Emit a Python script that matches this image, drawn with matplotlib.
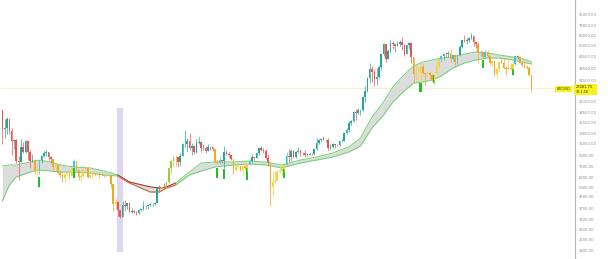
import numpy as np
import matplotlib
matplotlib.use("Agg")
import matplotlib.pyplot as plt
from matplotlib.patches import Rectangle
from matplotlib.ticker import FixedLocator, NullLocator

# weekly BTCUSD candles, week of 2017-12-18 .. week of 2022-05-09
first_open = 19100
closes = [
    14000, 14150,
    # 2018
    16400, 13600, 11500, 11600, 8200, 8100, 10400, 9600, 11500, 9500, 8200, 8400, 6900,
    7000, 8350, 8900, 9400, 9600, 8700, 8500, 7400, 7700, 6750, 6450, 6150, 6600, 6750,
    6350, 7400, 8200, 7000, 6300, 6400, 7000, 7300, 6250, 6500, 6700, 6600, 6600, 6500,
    6450, 6350, 6400, 6400, 5600, 4000, 4150, 3600, 3250, 3950, 3900,
    # 2019
    4050, 3500, 3550, 3500, 3450, 3650, 3700, 3850, 3850, 3950, 4000, 4000, 4100, 5200,
    5150, 5300, 5200, 5800, 7250, 8200, 8750, 8700, 8000, 8950, 10800, 10800, 11450,
    10200, 10500, 9500, 11000, 11300, 10200, 10100, 9750, 10400, 10300, 10000, 8050,
    7900, 8300, 8200, 9550, 9200, 9000, 8500, 7050, 7400, 7500, 7100, 7500, 7300, 7750,
    # 2020
    8200, 8700, 8600, 9350, 10150, 9900, 9650, 8550, 8050, 5350, 5800, 5900, 6780, 6900,
    7150, 7700, 8900, 8750, 9650, 8700, 9450, 9750, 9350, 9300, 9100, 9100, 9250, 9200,
    9950, 11050, 11700, 11850, 11650, 11700, 10250, 10300, 10900, 10750, 10650, 11350,
    11500, 13100, 13750, 15500, 16000, 18400, 18200, 19150, 19250, 23850, 26450, 32800,
    # 2021
    38200, 36000, 32300, 33100, 39300, 48600, 57400, 45200, 51200, 59000, 57600, 55800,
    57900, 59900, 56200, 49100, 56600, 58200, 46400, 34700, 35600, 35800, 39100, 35500,
    34700, 35300, 34200, 31800, 35400, 39800, 44600, 47000, 49000, 48900, 49900, 45000,
    48300, 42700, 48200, 54900, 61500, 60900, 61300, 63300, 65500, 59700, 57200, 49400,
    50100, 46700, 50800, 47300,
    # 2022
    41800, 43100, 35100, 38200, 42400, 42200, 38400, 37700, 38400, 37800, 41300, 46800,
    46400, 42200, 40400, 39400, 38500, 34300, 27481.70,
]
highs = [
    19200, 16500,
    17200, 16500, 14100, 11900, 11800, 8900, 11800, 11300, 11700, 11700, 9900, 9200, 8500,
    7500, 8400, 9000, 9750, 9900, 9600, 8900, 8500, 7800, 7800, 6900, 6850, 6650, 6800,
    6800, 7600, 8500, 8250, 7150, 6600, 6850, 7400, 7400, 6600, 6800, 6750, 6650, 6800,
    6750, 6500, 6500, 6550, 6450, 5600, 4400, 4200, 3600, 4200, 4250,
    4100, 4100, 3750, 3650, 3550, 3700, 3700, 4200, 3950, 3950, 4050, 4100, 4150, 5300,
    5450, 5400, 5650, 5800, 7300, 8300, 8900, 9100, 8700, 9300, 11000, 13850, 12000,
    13150, 11100, 10650, 11800, 12300, 11500, 10950, 10600, 10900, 10500, 10350, 10050,
    8500, 8850, 8400, 10500, 9900, 9500, 9100, 8500, 7850, 7750, 7550, 7500, 7650, 7900,
    8450, 9200, 8800, 9600, 10150, 10500, 10200, 9950, 9200, 8150, 6950, 6900, 7200, 7470,
    7300, 7750, 9450, 10050, 9950, 9900, 9700, 10400, 10000, 9600, 9800, 9350, 9450, 9350,
    10000, 12050, 11900, 12100, 12450, 11800, 12100, 10800, 11100, 10950, 10950, 11450,
    11750, 13350, 14100, 15950, 16300, 18800, 19450, 19900, 19450, 24200, 28400, 33300,
    42000, 40100, 37850, 38500, 40900, 49700, 58300, 57500, 52600, 61800, 60600, 58400,
    60200, 61300, 64800, 57500, 58000, 59500, 59500, 46500, 40800, 39500, 41300, 41300,
    36000, 36600, 35900, 34700, 35500, 42600, 44800, 48100, 49500, 50500, 51000, 52900,
    48800, 48400, 48500, 56600, 62000, 67000, 63700, 64300, 69000, 66300, 59800, 59100,
    51900, 50600, 52000, 52000,
    47600, 44400, 43500, 38900, 42600, 45800, 44700, 39700, 45400, 42000, 42400, 46900,
    48200, 47000, 42400, 42900, 40800, 40000, 34500,
]
lows = [
    10900, 12000,
    12800, 12800, 9100, 10000, 7900, 6000, 8000, 9300, 9400, 8400, 7300, 8100, 6600,
    6500, 6600, 7900, 8750, 8900, 8300, 7900, 7100, 7050, 6650, 6300, 5800, 5800, 6350,
    6100, 6350, 7300, 6900, 6000, 5900, 6300, 6900, 6200, 6150, 6200, 6400, 6450, 6150,
    6400, 6300, 6250, 6300, 5200, 3550, 3700, 3300, 3150, 3250, 3550,
    3700, 3500, 3450, 3450, 3350, 3400, 3550, 3650, 3700, 3700, 3850, 3900, 3950, 4100,
    4950, 5050, 5050, 5200, 5700, 6600, 7550, 7500, 7450, 7600, 8950, 10400, 9600,
    9900, 9100, 9150, 9400, 10800, 9500, 9800, 9350, 9750, 9900, 9650, 7900,
    7750, 7800, 7900, 7300, 9000, 8700, 8400, 6550, 6850, 7150, 6950, 6450, 7050, 6900,
    7700, 8100, 8300, 8550, 9100, 9650, 9300, 8500, 7600, 3850, 4500, 5700, 5850, 6750,
    6500, 6800, 7650, 8100, 8200, 8650, 8650, 9300, 8950, 9000, 8800, 8900, 9050, 9050,
    9100, 9900, 10950, 11200, 11600, 11200, 9900, 9850, 10200, 10150, 10450, 10550,
    11200, 11400, 12900, 13200, 14850, 15800, 16200, 18000, 17600, 19000, 21800, 26000,
    30000, 30400, 28800, 29200, 32300, 37400, 47000, 43000, 45000, 49300, 53300, 50400,
    55400, 55500, 52000, 47000, 48800, 53000, 42200, 30000, 31000, 31200, 31000, 34800,
    28800, 32700, 32100, 31000, 29300, 35200, 37700, 42800, 43900, 46400, 46500, 43000,
    43400, 39600, 40800, 46900, 53800, 59500, 57800, 60000, 62300, 55600, 53500, 42000,
    46800, 45600, 45600, 45700,
    40600, 39600, 34000, 32900, 36300, 41700, 37900, 34300, 37500, 37200, 37600, 40500,
    45200, 42000, 39200, 38500, 37700, 33700, 25800,
]

# support band (two averages), by week index
band_week = [0, 3, 6, 12, 16, 21, 25, 31, 38, 44, 50, 55, 64, 68, 71, 75, 81, 86, 92,
             100, 107, 114, 121, 129, 136, 143, 150, 155, 160, 165, 169, 173, 178, 182,
             186, 190, 195, 200, 205, 210, 215, 221, 227, 229]
band_upper = [7540, 7670, 7670, 8060, 8330, 8060, 7670, 7420, 7300, 6940, 6490, 5780,
              5320, 5230, 5320, 5680, 6820, 7930, 8060, 8060, 8190, 8060, 7670, 8330,
              8760, 9370, 10350, 12030, 17070, 21910, 28140, 33240, 39940, 42690, 44140,
              45630, 46400, 48770, 50430, 49600, 47980, 46400, 44140, 42690]
band_lower = [4210, 5490, 6280, 6820, 7050, 6940, 6820, 6820, 6710, 6490, 6390, 5680,
              4890, 4890, 5230, 5490, 6490, 6940, 7420, 7670, 7800, 7670, 7300, 7930,
              8330, 8760, 9530, 10530, 14210, 17650, 21910, 25460, 30080, 30590, 31620,
              33800, 38620, 41980, 44140, 45630, 45630, 44140, 41980, 41290]
bear_weeks = (50, 75)  # band drawn red here

# green signal bars
signal_week = [16, 31, 93, 96, 106, 122, 181, 187, 208, 221]
signal_top = [6280, 7300, 7300, 7180, 7300, 7420, 30080, 34370, 44140, 39270]
signal_bottom = [5320, 6180, 6180, 6070, 5970, 6180, 25890, 30080, 38620, 34370]

# highlighted range
highlight_weeks = (49.7, 52.1)
highlight_price = (1800, 19800)

y_ticks = [95000, 79000, 66000, 56000, 46500, 38500, 31500, 22100, 18500, 15500,
           13000, 11000, 9000, 7500, 6200, 5300, 4500, 3700, 3100, 2600, 2200, 1840]
last_price = closes[-1]
countdown = "32:1:58"

TEAL, RED = "#26a69a", "#ef5350"
YELLOW, ORANGE, CYAN, LIME = "#f2d23a", "#f5a623", "#3fc6e0", "#9ccc3c"

closes = np.array(closes, dtype=float)
opens = np.concatenate([[first_open], closes[:-1]])
highs = np.maximum(np.array(highs, dtype=float), np.maximum(opens, closes))
lows = np.minimum(np.array(lows, dtype=float), np.minimum(opens, closes))
weeks = np.arange(len(closes))
upper_at = np.interp(weeks, band_week, band_upper)

colors = []
for w, o, c, up in zip(weeks, opens, closes, upper_at):
    rising = c >= o
    if bear_weeks[0] <= w <= bear_weeks[1]:
        if c > up:
            colors.append(LIME if rising else ORANGE)
        else:
            colors.append(TEAL if rising else RED)
    elif c < up:
        colors.append(YELLOW if rising else ORANGE)
    elif rising and o < up:
        colors.append(CYAN)
    else:
        colors.append(TEAL if rising else RED)

W, H = 608, 259
fig = plt.figure(figsize=(W / 100, H / 100), dpi=100)
ax = fig.add_axes([0, 0, 575 / W, 1])

# log price scale: 95000 at 14px from top, 60px per e-fold
top = 95000 * np.exp(14 / 60)
bottom = 95000 * np.exp(-(H - 14) / 60)
ax.set_yscale("log")
ax.set_ylim(bottom, top)
ax.set_xlim(-2.4 / 2.31, (575 - 2.4) / 2.31)

ax.add_patch(Rectangle((highlight_weeks[0], highlight_price[0]),
                       highlight_weeks[1] - highlight_weeks[0],
                       highlight_price[1] - highlight_price[0],
                       facecolor="#dcd7ee", edgecolor="none", zorder=0))

ax.fill_between(band_week, band_upper, band_lower, color="#d6d6d6", alpha=0.85, lw=0, zorder=1)
ax.plot(band_week, band_upper, color="#6fd36f", lw=0.7, zorder=2)
ax.plot(band_week, band_lower, color="#6fd36f", lw=0.7, zorder=2)
bw = np.array(band_week)
seg = (bw >= bear_weeks[0]) & (bw <= bear_weeks[1])
ax.plot(bw[seg], np.array(band_upper)[seg], color="#c62828", lw=0.7, zorder=3)
ax.plot(bw[seg], np.array(band_lower)[seg], color="#ef5350", lw=0.7, zorder=3)

ax.axhline(last_price, color="#f3e27a", lw=0.6, ls=(0, (1, 1)), zorder=1)

ax.bar(signal_week, np.array(signal_top) - np.array(signal_bottom), bottom=signal_bottom,
       width=0.9, color="#21c02b", lw=0, zorder=4)

ax.vlines(weeks, lows, highs, colors=colors, lw=0.5, zorder=5)
body_lo = np.minimum(opens, closes)
body_hi = np.maximum(np.maximum(opens, closes), body_lo * 1.004)
ax.bar(weeks, body_hi - body_lo, bottom=body_lo, width=0.7, color=colors, lw=0, zorder=6)

for s in ["top", "left", "bottom"]:
    ax.spines[s].set_visible(False)
ax.spines["right"].set_color("#b4b4b4")
ax.spines["right"].set_linewidth(0.8)
ax.set_xticks([])
ax.yaxis.tick_right()
ax.yaxis.set_major_locator(FixedLocator(y_ticks))
ax.yaxis.set_minor_locator(NullLocator())
ax.set_yticklabels([f"{v:.2f}" for v in y_ticks])
ax.tick_params(axis="y", length=0, pad=2.5, labelsize=2.7, labelcolor="#8c8c8c")

# last price marker
py = 14 + 60 * np.log(95000 / last_price)
fig.patches.append(Rectangle((574 / W, 1 - 95 / H), 23 / W, 10.7 / H,
                             transform=fig.transFigure, facecolor="#f7f21c", edgecolor="none"))
fig.text(576 / W, 1 - (py - 1.5) / H, f"{last_price:.2f}", fontsize=2.6, color="#333333",
         va="center", ha="left")
fig.text(576 / W, 1 - (py + 3.5) / H, countdown, fontsize=2.4, color="#333333",
         va="center", ha="left")
fig.patches.append(Rectangle((555 / W, 1 - 91.5 / H), 17 / W, 5.5 / H,
                             transform=fig.transFigure, facecolor="#f7f21c", edgecolor="none"))
fig.text(563.5 / W, 1 - 88.7 / H, "BTCUSD", fontsize=2.4, color="#333333",
         va="center", ha="center")

fig.savefig("out.png", dpi=100, facecolor="white")
